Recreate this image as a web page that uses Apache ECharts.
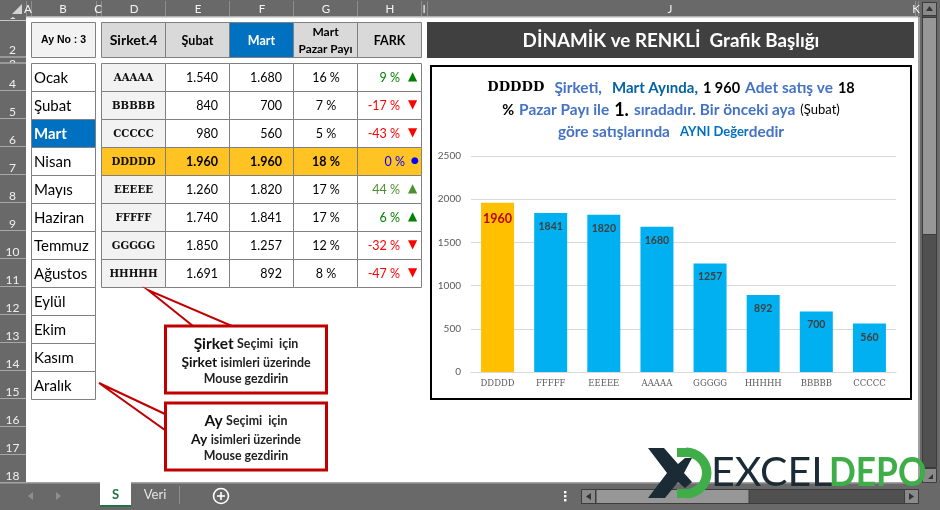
<!DOCTYPE html>
<html><head><meta charset="utf-8">
<style>html,body{margin:0;padding:0;background:#fff}#c{width:940px;height:510px}</style>
<script src="https://cdn.jsdelivr.net/npm/echarts@6/dist/echarts.min.js"></script>
</head><body><div id="c"></div>
<script>
// ---- data ----
const chartCategories = ['DDDDD','FFFFF','EEEEE','AAAAA','GGGGG','HHHHH','BBBBB','CCCCC'];
const chartValues = [1960,1841,1820,1680,1257,892,700,560];
const highlighted = 'DDDDD';
const yTicks = {min:0,max:2500,interval:500};
const months = ['Ocak','Şubat','Mart','Nisan','Mayıs','Haziran','Temmuz','Ağustos','Eylül','Ekim','Kasım','Aralık'];
const selectedMonth = 'Mart';
const companies = ['AAAAA','BBBBB','CCCCC','DDDDD','EEEEE','FFFFF','GGGGG','HHHHH'];
const subatCol = ['1.540','840','980','1.960','1.260','1.740','1.850','1.691'];
const martCol = ['1.680','700','560','1.960','1.820','1.841','1.257','892'];
const shareCol = ['16 %','7 %','5 %','18 %','17 %','17 %','12 %','8 %'];
const farkCol = ['9 %','-17 %','-43 %','0 %','44 %','6 %','-32 %','-47 %'];
const farkColor = ['#008000','#FF0000','#FF0000','#0000FF','#4E8F2F','#008000','#FF0000','#FF0000'];
const farkIcon = ['▲','▼','▼','●','▲','▲','▼','▼'];
const columnLetters = [['A',28],['B',63],['C',98],['D',134],['E',198],['F',262],['G',326],['H',390],['I',424],['J',670],['K',916]];
const columnEdges = [26,31,96,101,165,229,293,357,421,427,915,918];

// ---- helpers ----
const G = [];
const rect=(x,y,w,h,fill,stroke,lw)=>G.push({type:'rect',z:-1,shape:{x,y,width:w,height:h},style:{fill:fill||'transparent',stroke:stroke||null,lineWidth:lw||0}});
const txt=(x,y,text,font,fill,align)=>G.push({type:'text',z:-1,style:{x,y,text,font,fill:fill||'#000',align:align||'center',verticalAlign:'middle'}});
const poly=(pts,fill,stroke,lw)=>G.push({type:'polygon',z:-1,shape:{points:pts},style:{fill:fill||'transparent',stroke:stroke||null,lineWidth:lw||0}});
const rich=(x,y,text,richStyles)=>G.push({type:'text',z:-1,style:{x,y,text,rich:richStyles,align:'center',verticalAlign:'middle'}});
const CHROME='#696969', GRID='#808080', L='Lato, sans-serif', S='"DejaVu Serif", serif';

// sheet background
rect(0,0,940,510,'#fff');
// row headers (rows 1 and 3 are squeezed, so their numbers are clipped)
rect(0,17,26,466,CHROME);
txt(12.5,15.5,'1','12px '+L,'#eee');
txt(12.5,64,'3','12px '+L,'#eee');
rect(0,63,26,420,CHROME);
rect(0,20,26,1,'#c8c8c8');
rect(0,56.5,26,1,'#c8c8c8');
rect(0,62.5,26,1,'#c8c8c8');
const rowBottoms=[[2,58],[4,91],[5,119],[6,147],[7,175],[8,203],[9,231],[10,259],[11,287],[12,315],[13,343],[14,371],[15,399],[16,427],[17,455],[18,483]];
rowBottoms.forEach(([n,b])=>{
  if(b<483&&n>2) rect(0,b-1,26,1,'#a8a8a8');
  txt(12.5,n===2?50:b-7,String(n),'12px '+L,'#f0f0f0');
});
// column headers
rect(0,0,940,17,CHROME);
rect(26,16,892,1.5,'#b0b0b0');
columnEdges.forEach(x=>rect(x,1,1,15,'#8e8e8e'));
columnLetters.forEach(([t,x])=>txt(x,9,t,'11.5px '+L,'#f4f4f4'));
poly([[22,4],[22,14],[12,14]],'#d4d4d4');

// month list
rect(31.5,22.5,64,35,'#F2F2F2',GRID,1);
txt(63.5,40.5,'Ay No : 3','bold 10.5px "Liberation Sans", sans-serif','#000');
months.forEach((m,i)=>{
  const sel=m===selectedMonth, y=63+28*i;
  rect(31.5,y+.5,64,28,sel?'#0070C0':'#fff',GRID,1);
  txt(34,y+15,m,(sel?'bold ':'')+'15px '+L,sel?'#fff':'#000','left');
});
// table head
const colX=[101,165,229,293,357,421];
const heads=[['Sirket.4','bold 14px '+L],['Şubat','bold 12.5px '+L],['Mart','bold 12.5px '+L],['',''],['FARK','bold 12.5px '+L]];
heads.forEach(([t,f],i)=>{
  rect(colX[i]+.5,22.5,64,35,i===2?'#0070C0':'#D9D9D9',GRID,1);
  if(t) txt(colX[i]+32.5,40.5,t,f,i===2?'#fff':'#000');
});
txt(325.5,32,'Mart','bold 12px '+L,'#000');
txt(325.5,49,'Pazar Payı','bold 11.8px '+L,'#000');
// table body
companies.forEach((name,i)=>{
  const y=63+28*i, hi=name===highlighted, w=hi?'bold ':'', yc=y+15;
  colX.slice(0,5).forEach((x,j)=>rect(x+.5,y+.5,64,28,hi?'#FFC423':(j===0?'#F2F2F2':'#fff'),GRID,1));
  txt(133.5,yc,name,'bold 10.2px '+S,'#111');
  txt(218,yc,subatCol[i],w+'12.5px '+L,'#000','right');
  txt(282,yc,martCol[i],w+'12.5px '+L,'#000','right');
  txt(326,yc,shareCol[i],w+'12.5px '+L,'#000');
  txt(hi?405:400,yc,farkCol[i],'12.5px '+L,farkColor[i],'right');
  txt(hi?415:412.5,yc-1,farkIcon[i],(hi?'9':'12')+'px "DejaVu Sans"',farkColor[i]);
});

// callouts
const RED='#C00000';
const ca={font:'bold 15.5px '+L,fill:'#111'}, cb={font:'bold 13.8px '+L,fill:'#111'}, cc={font:'bold 12.4px '+L,fill:'#222'};
poly([[148,290],[193,326],[232,326]],'#fff',RED,2);
rect(165.5,326,161,67,'#fff',RED,3);
rich(246,344,'{a|Şirket} {c|Seçimi  için}',{a:ca,c:cc});
rich(246,363,'{b|Şirket} {c|isimleri üzerinde}',{b:cb,c:cc});
rich(246,379,'{c|Mouse gezdirin}',{c:cc});
poly([[99,383],[165,414],[165,430]],'#fff',RED,2);
rect(165.5,403,161,67,'#fff',RED,3);
rich(246,421,'{a|Ay} {c|Seçimi  için}',{a:ca,c:cc});
rich(246,440,'{b|Ay} {c|isimleri üzerinde}',{b:cb,c:cc});
rich(246,456,'{c|Mouse gezdirin}',{c:cc});

// banner and chart frame
rect(427,22,487,36,'#404040');
txt(671,41,'DİNAMİK ve RENKLİ  Grafik Başlığı','bold 18.8px '+L,'#fff');
rect(431,66,480,333,'#fff','#000',2);

// bottom strip and scrollbars
rect(918,17,22,466,CHROME);
rect(918,17,2,466,'#a0a0a0');
rect(922.5,2.5,14,465,'#505050','#3c3c3c',1);
rect(922.5,2.5,14,13,'#8a8a8a','#3c3c3c',1);
poly([[929.5,6],[933,11],[926,11]],'#333');
rect(922.5,17.5,14,217,'#979797','#3c3c3c',1);
rect(0,483,940,27,CHROME);
rect(0,482,918,1.5,'#a4a4a4');
rect(100,482,31,24,'#fff');
rect(100,505,31,2,'#217346');
txt(115.5,495,'S','bold 13px '+L,'#217346');
txt(155,495,'Veri','13px '+L,'#e4e4e4');
rect(179,486,1,18,'#8e8e8e');
poly([[33,492],[33,500],[28,496]],'#8f8f8f');
poly([[56,492],[56,500],[61,496]],'#8f8f8f');
G.push({type:'circle',z:-1,shape:{cx:221,cy:496,r:7.5},style:{fill:'transparent',stroke:'#fff',lineWidth:1.6}});
rect(217,495.2,8,1.6,'#fff'); rect(220.2,492,1.6,8,'#fff');
[492,496,500].forEach(y=>rect(564,y-1,2.4,2.4,'#fff'));
rect(581.5,489.5,337,14,'#505050','#3c3c3c',1);
rect(581.5,489.5,14,14,'#8a8a8a','#3c3c3c',1);
poly([[591,493],[591,500],[586,496.5]],'#333');
rect(596,489.5,153,14,'#979797','#3c3c3c',1);
rect(904.5,489.5,14,14,'#8a8a8a','#3c3c3c',1);
poly([[909,493],[909,500],[914,496.5]],'#333');
rect(922.5,468.5,14,14,'#8a8a8a','#3c3c3c',1);
poly([[933,474],[933,479],[928,479]],'#333');

// logo
poly([[648,448],[664,448],[678,464],[685,458],[692,458],[684,473],[692,482],[685,488],[678,482],[665,498],[648,498],[667,473]],'#1B2B36');
rect(677,448,9,9,'#3FAE49');
rect(677,489,9,9,'#3FAE49');
G.push({type:'sector',z:-1,shape:{cx:686,cy:473,r:25.5,r0:16,startAngle:-Math.PI/2,endAngle:Math.PI/2,clockwise:true},style:{fill:'#3FAE49'}});
txt(711,473,'EXCEL','41px '+L,'#1B2B36','left');
G.push({type:'text',z:-1,x:829,y:473,scaleX:.86,style:{x:0,y:0,text:'DEPO',font:'bold 41px '+L,fill:'#3FAE49',align:'left',verticalAlign:'middle'}});

// ---- chart ----
const chart = echarts.init(document.getElementById('c'),null,{renderer:'canvas',width:940,height:510});
const B='#4472C4', D='#0563A5', T='#000';
const r=(fontSize,color,fontFamily,fontWeight)=>({fontSize,color,fontFamily:fontFamily||'Lato',fontWeight:fontWeight||'bold',lineHeight:22});
chart.setOption({
  animation:false,
  title:{
    left:666, top:72, textAlign:'center',
    text:'{n|DDDDD}  {b|Şirketi,}  {d|Mart Ayında,} {k|1 960} {b|Adet satış ve} {k|18}\n'+
         '{k|%} {b|Pazar Payı ile} {big|1.} {b|sıradadır. Bir önceki aya} {s|(Şubat)}\n'+
         '{b|göre satışlarında}  {e|AYNI Değer}{b|dedir}',
    textStyle:{
      lineHeight:22,
      rich:{
        n:r(13.2,T,'DejaVu Serif'),
        b:r(15.4,B),
        d:r(15,D),
        k:r(14.5,T),
        big:r(18,T),
        s:r(13,T,'Lato','normal'),
        e:r(13,'#0070C0')
      }
    }
  },
  grid:{left:471,width:425,top:156,height:216,containLabel:false},
  xAxis:{type:'category',data:chartCategories,
    axisLine:{lineStyle:{color:'#D9D9D9',width:1}},axisTick:{show:false},
    axisLabel:{fontFamily:'DejaVu Serif',fontSize:8.5,color:'#595959',margin:7,interval:0}},
  yAxis:{type:'value',min:yTicks.min,max:yTicks.max,interval:yTicks.interval,
    axisLine:{show:false},axisTick:{show:false},
    axisLabel:{fontFamily:'Lato',fontSize:10,color:'#595959',margin:10,formatter:v=>String(v)},
    splitLine:{lineStyle:{color:'#D9D9D9',width:1}}},
  series:[{type:'bar',barWidth:33,
    data:chartValues.map((v,i)=>{
      const hi=chartCategories[i]===highlighted;
      return {value:v,itemStyle:{color:hi?'#FFC000':'#00B0F0'},
        label:hi?{fontSize:12.5,color:'#C00000',distance:10}:{fontSize:10.5,color:'#404040',distance:8}};
    }),
    label:{show:true,position:'insideTop',fontFamily:'Lato',fontWeight:'bold'}}],
  graphic:{elements:G}
});
</script></body></html>
